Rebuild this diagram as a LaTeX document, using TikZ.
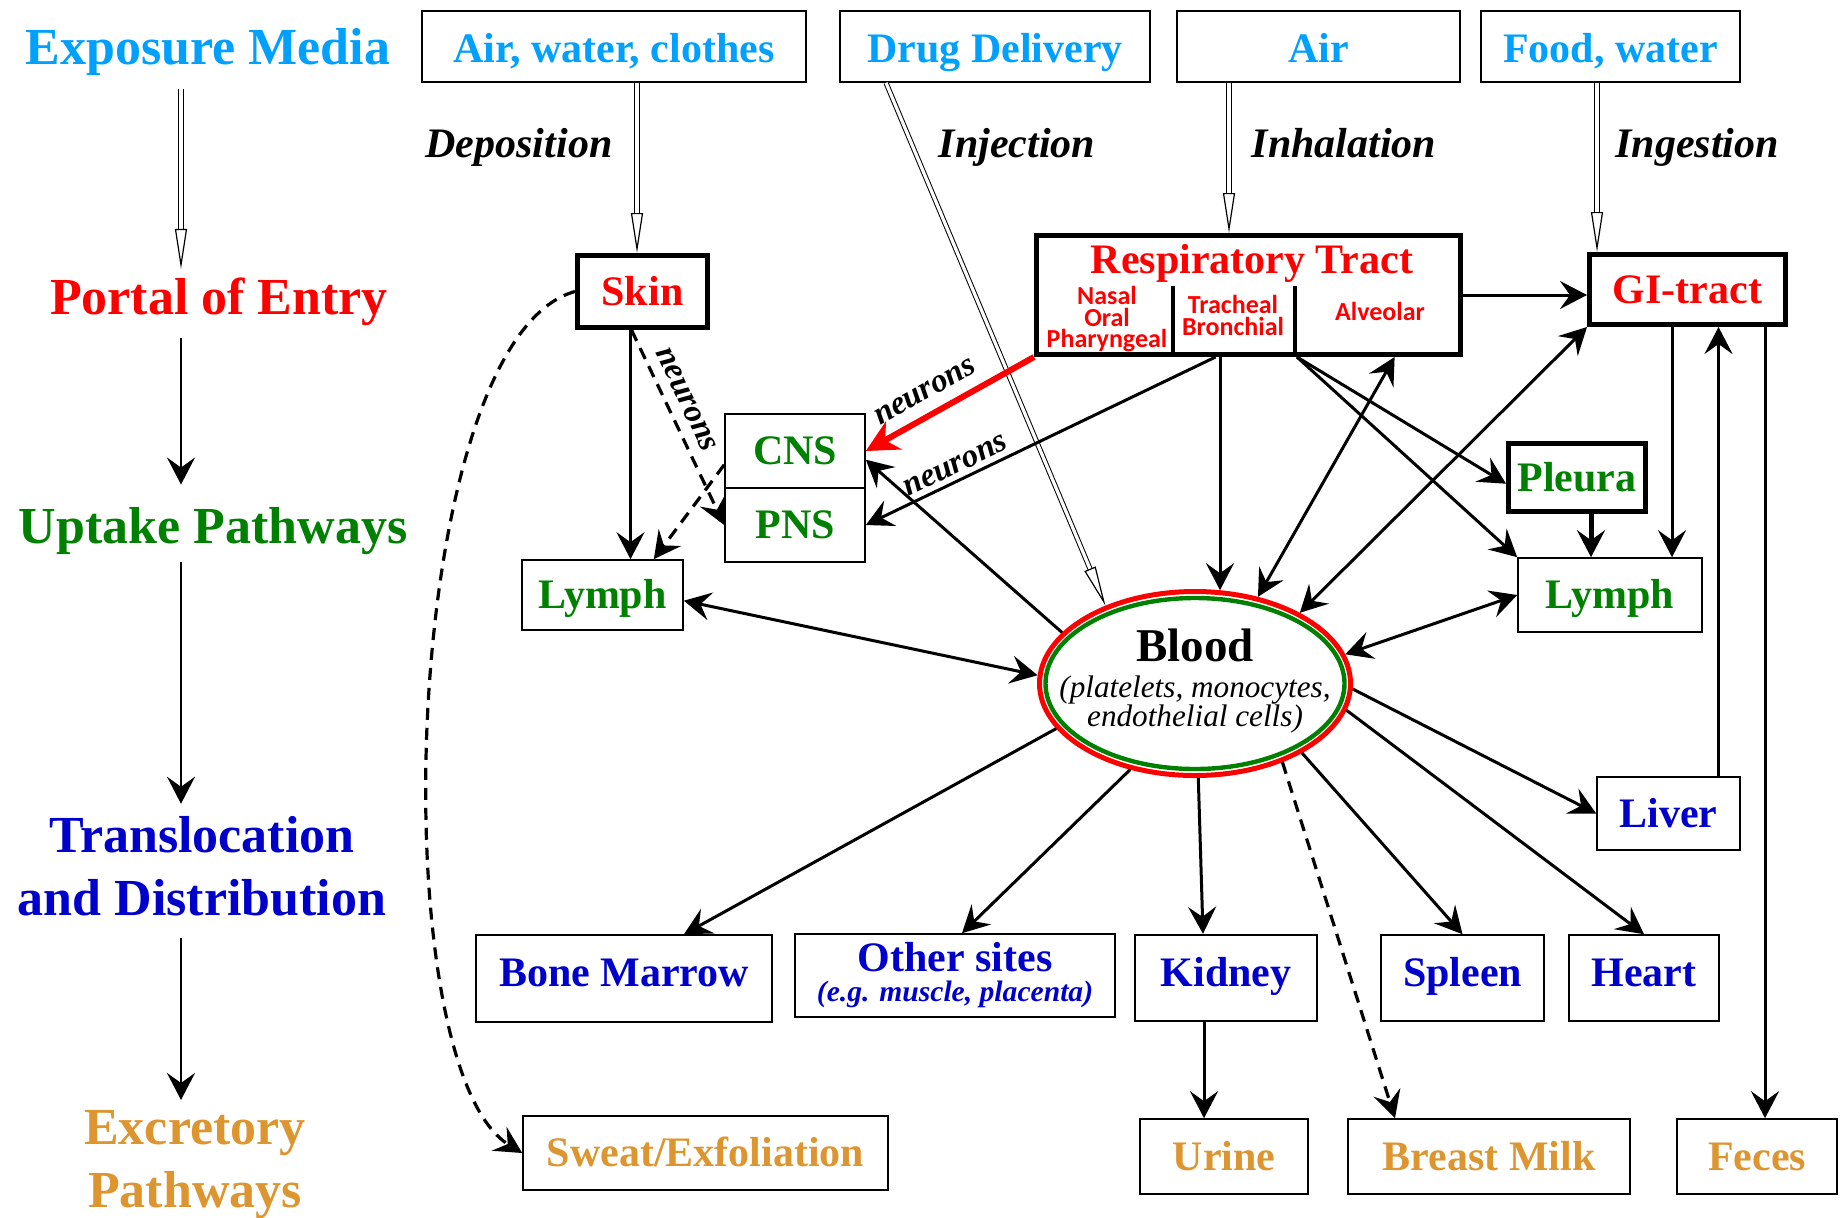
\documentclass[tikz,border=0pt]{standalone}
\usepackage{fontspec}
\setmainfont{Liberation Serif}
\newfontfamily\calibri{Carlito}
\usetikzlibrary{arrows.meta,positioning,shapes,calc}
\definecolor{mediablue}{RGB}{0,160,255}
\definecolor{uptakegreen}{RGB}{0,128,0}
\definecolor{transblue}{RGB}{0,0,204}
\definecolor{excrorange}{RGB}{221,149,48}

\begin{document}
\begin{tikzpicture}[x=0.5pt, y=-0.5pt, >={Stealth[length=13.5pt,width=14pt,inset=5pt]}]
% Define block styles
\tikzstyle{stage} = [font=\fontsize{26}{31.5}\selectfont\bfseries, align=center, inner sep=0pt]
\tikzstyle{box} = [rectangle, draw, line width=0.8pt, inner sep=0pt, minimum height=37pt,
    font=\fontsize{21}{24}\selectfont\bfseries, text height=14.5pt, text depth=0.6pt]
\tikzstyle{media} = [box, text=mediablue, minimum height=35.5pt, text height=15.75pt, text depth=0pt]
\tikzstyle{portal} = [box, line width=2.5pt, text=red]
\tikzstyle{upbox} = [box, text=uptakegreen]
\tikzstyle{organ} = [box, text=transblue, minimum height=43pt, text height=14.7pt, text depth=6.3pt]
\tikzstyle{excrete} = [box, text=excrorange, minimum height=37.5pt]
\tikzstyle{route} = [font=\fontsize{21}{24}\selectfont\bfseries\itshape, anchor=base]
\tikzstyle{region} = [font=\calibri\fontsize{13}{10.75}\selectfont\bfseries, text=red, align=center, inner sep=0pt]
\tikzstyle{nerve} = [font=\fontsize{16.5}{18}\selectfont\bfseries\itshape, sloped, inner sep=1pt]
\tikzstyle{line} = [draw, line width=1.5pt, ->]
\tikzstyle{dline} = [line, line width=1.6pt, dash pattern=on 6pt off 4pt]
\tikzstyle{hollow} = [draw, double, double distance=1.6pt, line width=0.5pt,
    -{Triangle[open,line width=0.6pt,length=20pt,width=6pt]}]

    \useasboundingbox (0,0) rectangle (1840,1217);
    % Place nodes
    \coordinate (axis) at (181,0);
    \node [stage, text=mediablue, anchor=base] (expo) at (208,64) {Exposure Media};
    \node [stage, text=red, anchor=base] (entry) at (219,314) {Portal of Entry};
    \node [stage, text=uptakegreen, anchor=base] (uptake) at (213,543) {Uptake Pathways};
    \node [stage, text=transblue] (transl) at (202,866) {Translocation\\and Distribution};
    \node [stage, text=excrorange] (excr) at (195,1164.5) {Excretory\\Pathways};

    \node [media, minimum width=192pt] (airwc) at (614,46.5) {Air, water, clothes};
    \node [media, minimum width=155pt] (drug) at (995,46.5) {Drug Delivery};
    \node [media, minimum width=141.5pt] (air) at (1318.5,46.5) {Air};
    \node [media, minimum width=129.5pt] (food) at (1610.5,46.5) {Food, water};

    \node [route] (depo) at (519,157) {Deposition};
    \node [route] (inj) at (1017,157) {Injection};
    \node [route] (inh) at (1344,157) {Inhalation};
    \node [route] (ing) at (1697,157) {Ingestion};

    \node [portal, minimum width=65pt, minimum height=36pt] (skin) at (642.5,291.5) {Skin};
    \node [portal, minimum width=212pt, minimum height=59.5pt] (resp) at (1248.5,295) {};
    \node [portal, minimum width=98pt, minimum height=35pt] (gi) at (1687.5,289.5) {GI-tract};
    \node [text=red, font=\fontsize{21}{24}\selectfont\bfseries, anchor=base] (resptitle) at (1252,273) {Respiratory Tract};
    \node [region] (nasal) at (1107,319.5) {Nasal\\Oral\\Pharyngeal};
    \node [region] (trach) at (1233,315.5) {Tracheal\\Bronchial};
    \node [region, anchor=base] (alv) at (1380,320) {Alveolar};
    \draw [line width=1.7pt] (1173,286) -- (1173,355) (1295,286) -- (1295,355);

    \node [upbox, minimum width=70pt] (cns) at (795,451) {CNS};
    \node [upbox, minimum width=70pt, below=-0.8pt of cns] (pns) {PNS};
    \node [upbox, minimum width=80.5pt, minimum height=35pt] (lymphl) at (602.5,595) {Lymph};
    \node [upbox, line width=2.5pt, minimum width=68.5pt, minimum height=34pt] (pleura) at (1577,477.5) {Pleura};
    \node [upbox, minimum width=92pt] (lymphr) at (1610,595) {Lymph};

    \node [ellipse, draw=red, line width=2.5pt, minimum width=155.5pt, minimum height=92pt, inner sep=0pt] (blood) at (1195,683.5) {};
    \draw [uptakegreen, line width=2.2pt] (blood.center) ellipse (74.75pt and 42.75pt);
    \node [align=center, inner sep=0pt, font=\fontsize{15.6}{14.5}\selectfont\itshape] (bloodtxt) at (1195,681)
        {{\fontsize{23.5}{26}\selectfont\bfseries\upshape Blood}\\[3.5pt](platelets, monocytes,\\endothelial cells)};

    \node [box, text=transblue, minimum width=71.5pt, minimum height=36.5pt] (liver) at (1668.5,813.5) {Liver};
    \node [organ, minimum width=148pt, minimum height=43.5pt] (marrow) at (624,978.5) {Bone Marrow};
    \node [rectangle, draw, line width=0.8pt, inner sep=0pt, text=transblue, minimum width=160pt, minimum height=41.5pt,
        align=center, font=\fontsize{21}{15}\selectfont\bfseries] (other) at (955,975.5)
        {Other sites\\{\fontsize{14.8}{15}\selectfont\itshape (e.g. muscle, placenta)}};
    \node [organ, line width=1.2pt, minimum width=91pt] (kidney) at (1226,978) {Kidney};
    \node [organ, minimum width=81.5pt] (spleen) at (1462.5,978) {Spleen};
    \node [organ, minimum width=75pt] (heart) at (1644,978) {Heart};

    \node [excrete, minimum width=182.5pt, minimum height=37pt] (sweat) at (705.5,1153) {Sweat/Exfoliation};
    \node [excrete, minimum width=84pt] (urine) at (1224,1156.5) {Urine};
    \node [excrete, minimum width=141pt] (milk) at (1489,1156.5) {Breast Milk};
    \node [excrete, minimum width=80pt] (feces) at (1757,1156.5) {Feces};

    % Draw edges
    \path [hollow, shorten <=7pt, shorten >=4pt] (expo.south -| axis) -- (entry.north -| axis);
    \path [line, line width=1.3pt, shorten <=6pt, shorten >=11pt] (entry.south -| axis) -- (uptake.north -| axis);
    \path [line, line width=1.3pt, shorten <=3.5pt, shorten >=6pt] (uptake.south -| axis) -- (transl.north -| axis);
    \path [line, line width=1.3pt, shorten <=11pt, shorten >=5pt] (transl.south -| axis) -- (excr.north -| axis);

    \path [hollow] ([xshift=-2.75pt]skin.north |- airwc.south) -- ([xshift=-2.75pt]skin.north);
    \path [hollow] ([xshift=-54.5pt]drug.south) -- (blood.139);
    \path [hollow] ([xshift=-9.75pt]resp.north |- air.south) -- ([xshift=-9.75pt]resp.north);
    \path [hollow] ([xshift=-45.25pt]gi.north |- food.south) -- ([xshift=-45.25pt]gi.north);

    \path [line] ([xshift=-6pt]skin.south) -- ([xshift=-6pt]skin.south |- lymphl.north);
    \path [dline] ([xshift=-5.5pt]skin.south) -- node [nerve, above=4pt, pos=0.4] {neurons} (pns.west);
    \path [dline] (cns.191) -- ([xshift=-15pt]lymphl.north east);
    \path [line, draw=red, line width=3pt, -{Stealth[length=16pt,width=16pt,inset=5pt]}] (resp.south west)
        -- node [nerve, above=5pt, pos=0.58] {neurons} (cns.east);
    \path [line] (resp.242) -- node [nerve, above=1.5pt, pos=0.725] {neurons} (pns.east);
    \path [line] (blood.159) -- (cns.-7);
    \path [line, <->] (lymphl.-4) -- (blood.177);
    \path [line] (resp.south -| blood.75) -- (blood.75);
    \path [line, <->] (blood.54) -- (resp.-23);
    \path [line, <->] (blood.34) -- (gi.south west);
    \path [line] (resp.-52) -- (pleura.185);
    \path [line] (resp.-52) -- (lymphr.north west);
    \path [line] (resp.east) -- (resp.east -| gi.west);
    \path [line, line width=2.5pt] ([xshift=7pt]pleura.south) -- ([xshift=7pt]pleura.south |- lymphr.north);
    \path [line] ([xshift=-7.75pt]gi.south) -- ([xshift=-7.75pt]gi.south |- lymphr.north);
    \path [line] ([xshift=25pt]liver.north) -- ([xshift=25pt]liver.north |- gi.south);
    \path [line] ([xshift=38.75pt]gi.south) -- ([xshift=38.75pt]gi.south |- feces.north);
    \path [line, <->] (blood.11) -- (lymphr.west);
    \path [line] (blood.-2) -- (liver.west);
    \path [line] (blood.-10) -- (heart.north);
    \path [line] (blood.-33) -- (spleen.north);
    \path [dline] (blood.-42) -- ([xshift=-47pt]milk.north);
    \path [line] (blood.-88) -- ([xshift=-11.5pt]kidney.north);
    \path [line] (blood.233) -- ([xshift=3.5pt]other.north);
    \path [line] (blood.198) -- ([xshift=30pt]marrow.north);
    \path [line] ([xshift=-11pt]kidney.south) -- ([xshift=-11pt]kidney.south |- urine.north);
    \path [dline] (skin.west) .. controls (400,340) and (380,1065) .. (sweat.west);
\end{tikzpicture}
\end{document}
